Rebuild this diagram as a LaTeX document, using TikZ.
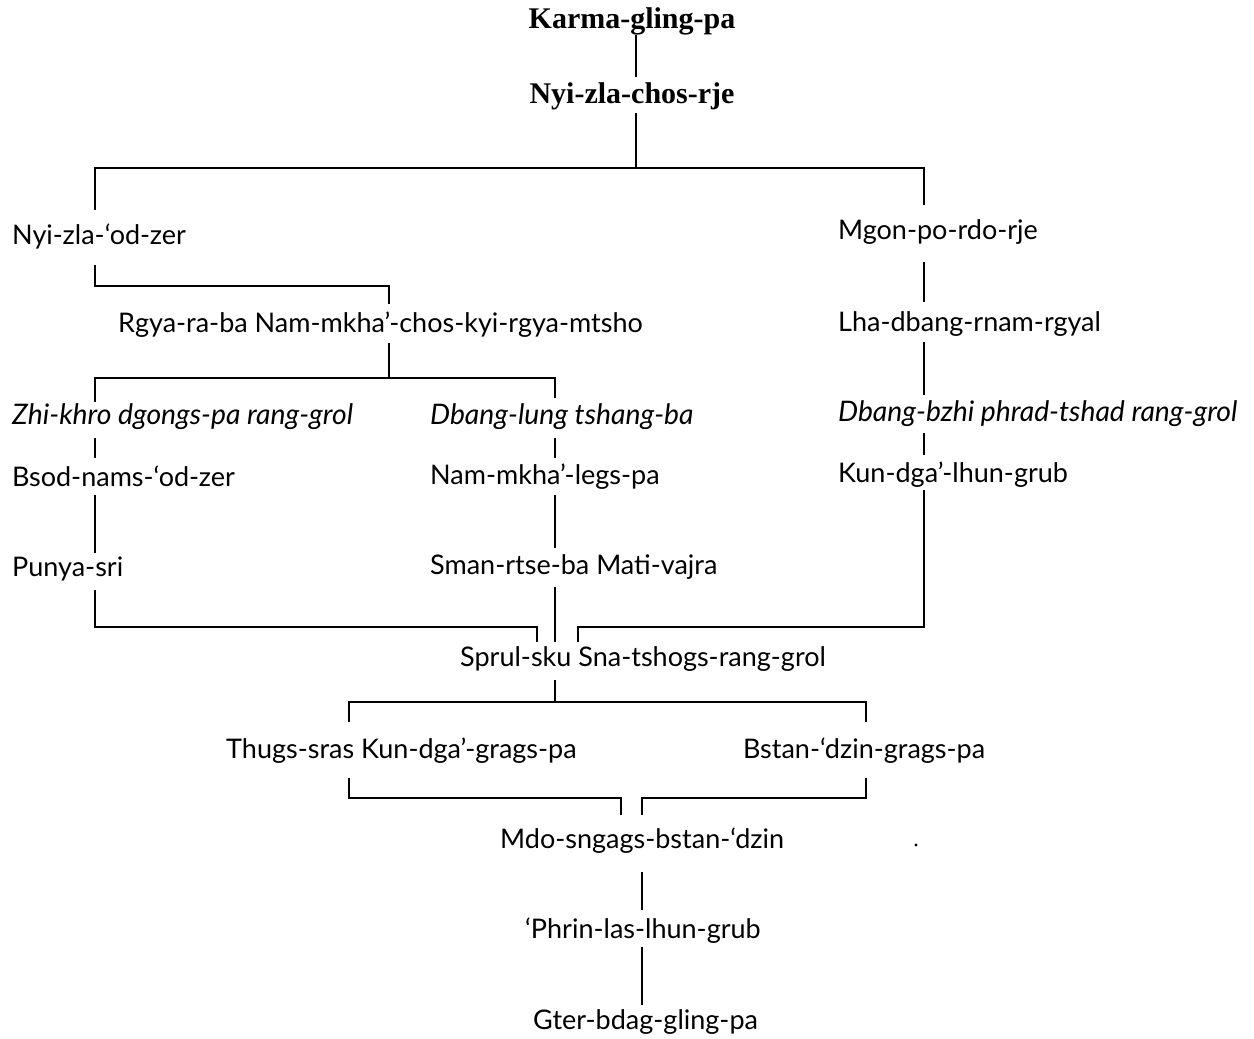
\documentclass[tikz,border=0pt]{standalone}
\usepackage{fontspec}
\setmainfont{Lato}
\newfontfamily\titlefont{Liberation Serif}
\begin{document}
\begin{tikzpicture}[x=1pt,y=-1pt,
  pname/.style={anchor=west,inner sep=0pt,font=\fontsize{27}{32}\selectfont,text height=19pt,text depth=6pt},
  pwork/.style={pname,font=\fontsize{28.3}{33}\selectfont\itshape},
  ptitle/.style={anchor=center,inner sep=0pt,font=\titlefont\bfseries\fontsize{30}{36}\selectfont,text height=20pt,text depth=7pt},
  link/.style={line width=1.9pt,line cap=butt,line join=miter}]
\useasboundingbox (0,0) rectangle (1254,1039);
% nodes
\node[ptitle] (kgp) at (632,22) {Karma-gling-pa};
\node[ptitle] (nzc) at (632,97) {Nyi-zla-chos-rje};
\node[pname] (nzo) at (12,238) {Nyi-zla-‘od-zer};
\node[pname] (mgon) at (838,233) {Mgon-po-rdo-rje};
\node[pname] (rgya) at (118,326) {Rgya-ra-ba Nam-mkha’-chos-kyi-rgya-mtsho};
\node[pname] (lha) at (838,325) {Lha-dbang-rnam-rgyal};
\node[pwork] (zhi) at (12,418) {Zhi-khro dgongs-pa rang-grol};
\node[pwork] (dbl) at (430,418) {Dbang-lung tshang-ba};
\node[pwork] (dbz) at (838,415) {Dbang-bzhi phrad-tshad rang-grol};
\node[pname] (bsod) at (12,480) {Bsod-nams-‘od-zer};
\node[pname] (nml) at (430,478) {Nam-mkha’-legs-pa};
\node[pname] (kun) at (838,476) {Kun-dga’-lhun-grub};
\node[pname] (punya) at (12,570) {Punya-sri};
\node[pname] (sman) at (430,568) {Sman-rtse-ba Mati-vajra};
\node[pname] (sprul) at (460,660) {Sprul-sku Sna-tshogs-rang-grol};
\node[pname] (thugs) at (226,752) {Thugs-sras Kun-dga’-grags-pa};
\node[pname] (bstan) at (743,752) {Bstan-‘dzin-grags-pa};
\node[pname] (mdo) at (500,842) {Mdo-sngags-bstan-‘dzin};
\node[pname] (phrin) at (525,932) {‘Phrin-las-lhun-grub};
\node[pname] (gter) at (533,1023) {Gter-bdag-gling-pa};
\fill (916,845) circle (1.6pt);
% connectors
\draw[link] (636,35) -- (636,77);
\draw[link] (636,113) -- (636,168);
\draw[link] (95,210) -- (95,168) -- (924,168) -- (924,205);
\draw[link] (95,265) -- (95,286) -- (389,286) -- (389,304);
\draw[link] (924,262) -- (924,302);
\draw[link] (389,343) -- (389,378);
\draw[link] (95,402) -- (95,378) -- (555,378) -- (555,398);
\draw[link] (924,342) -- (924,395);
\draw[link] (95,438) -- (95,458);
\draw[link] (555,438) -- (555,458);
\draw[link] (924,433) -- (924,455);
\draw[link] (95,495) -- (95,553);
\draw[link] (555,495) -- (555,548);
\draw[link] (95,590) -- (95,627) -- (537,627) -- (537,642);
\draw[link] (555,587) -- (555,642);
\draw[link] (924,490) -- (924,627) -- (578,627) -- (578,642);
\draw[link] (555,680) -- (555,702);
\draw[link] (349,722) -- (349,702) -- (866,702) -- (866,722);
\draw[link] (349,778) -- (349,798) -- (621,798) -- (621,815);
\draw[link] (866,778) -- (866,798) -- (642,798) -- (642,815);
\draw[link] (642,872) -- (642,910);
\draw[link] (642,947) -- (642,1005);
\end{tikzpicture}
\end{document}
